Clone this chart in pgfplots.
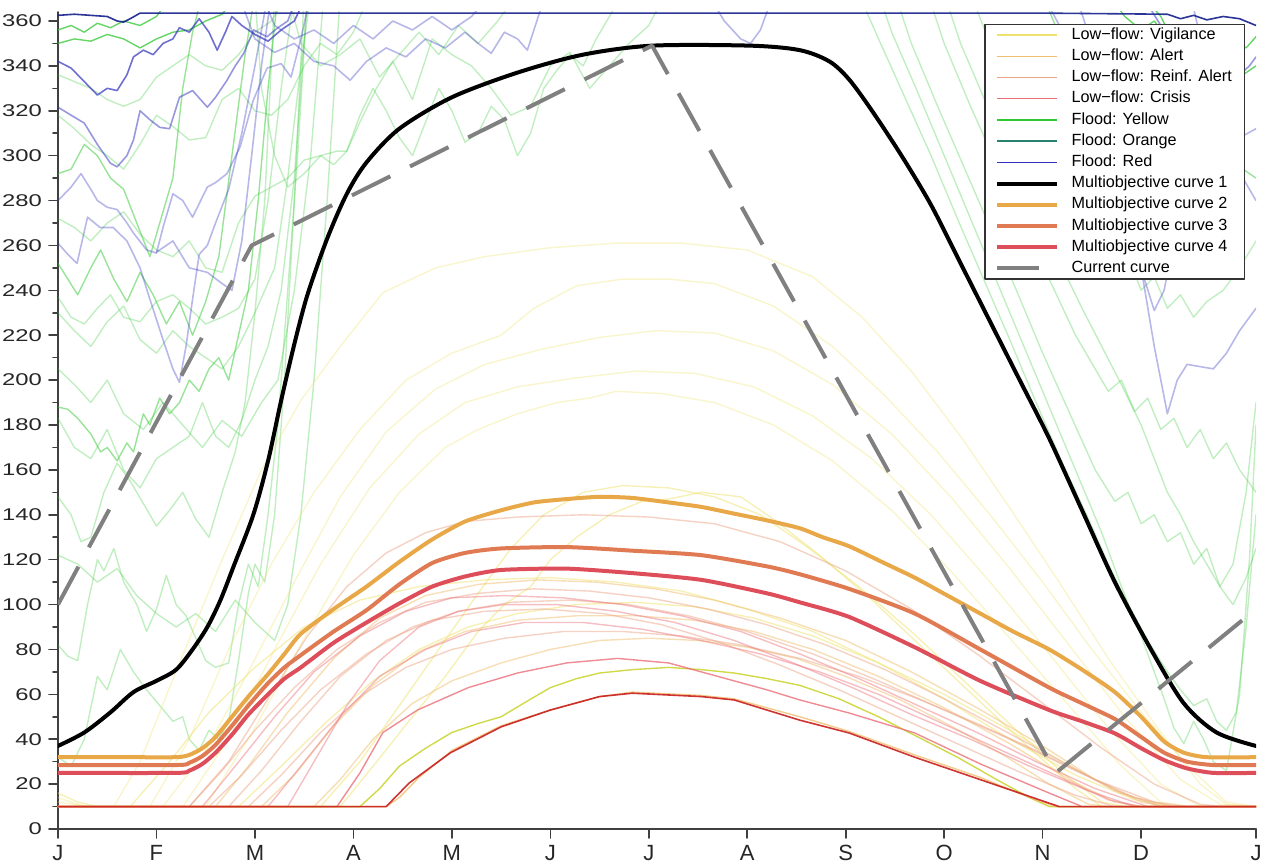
\documentclass[border=0pt]{standalone}
\usepackage{fontspec}
\setmainfont{Liberation Sans}
\newfontfamily\tickfont{Liberation Sans}[FakeStretch=1.4]
\usepackage{pgfplots}
\pgfplotsset{compat=1.18}
\definecolor{vigc}{RGB}{238,226,110}
\definecolor{alc}{RGB}{240,190,110}
\definecolor{rac}{RGB}{235,165,135}
\definecolor{crc}{RGB}{235,110,120}
\definecolor{fyc}{RGB}{50,200,50}
\definecolor{foc}{RGB}{40,130,110}
\definecolor{frc}{RGB}{50,50,190}
\definecolor{mo2}{RGB}{232,168,72}
\definecolor{mo3}{RGB}{224,122,82}
\definecolor{mo4}{RGB}{222,78,90}
\definecolor{curc}{RGB}{128,128,128}
\pgfplotsset{
 vig/.style={color=vigc, opacity=0.35, line width=0.7pt, forget plot},
 al/.style={color=alc, opacity=0.5, line width=0.7pt, forget plot},
 ra/.style={color=rac, opacity=0.5, line width=0.7pt, forget plot},
 cr/.style={color=crc, opacity=0.45, line width=0.7pt, forget plot},
 fy/.style={color=fyc, opacity=0.3, line width=0.7pt, forget plot},
 fyd/.style={color=fyc, opacity=0.75, line width=0.7pt, forget plot},
 fr/.style={color=frc, opacity=0.35, line width=0.8pt, forget plot},
 frd/.style={color=frc, opacity=0.7, line width=0.8pt, forget plot},
}
\begin{document}
\begin{tikzpicture}
\useasboundingbox (-29pt,-17.5pt) rectangle (603pt,414.5pt);
\begin{axis}[
  scale only axis, width=599pt, height=408.5pt,
  xmin=0, xmax=365, ymin=0, ymax=364,
  axis x line*=bottom, axis y line*=left,
  axis line style={-, black!75, line width=0.8pt},
  xtick={0,30,60,90,120,150,180,210,240,270,300,330,365},
  xticklabels={J,F,M,A,M,J,J,A,S,O,N,D,J},
  ytick={0,20,...,360}, minor y tick num=1,
  tick align=outside, major tick length=4.5pt, minor tick length=2.5pt,
  tick style={black!75, line width=0.8pt},
  yticklabel style={font=\tickfont\fontsize{8.5}{10}\selectfont, text=black!85},
  xticklabel style={font=\fontsize{11}{12}\selectfont, text=black!85},
  /pgf/number format/assume math mode=true,
  line join=round, line cap=round,
  legend image code/.code={\draw[#1] (0pt,0pt) -- (30pt,0pt); \path (35pt,0pt);},
  legend style={at={(1,1)}, anchor=north east, xshift=-5.5pt, yshift=-6pt,
    draw=black!80, line width=0.6pt, fill=white,
    font=\fontsize{8.1}{9.5}\selectfont, row sep=0pt,
    inner xsep=5pt, inner ysep=0pt,
    nodes={inner sep=1.3pt, text height=6.1pt, text depth=1.9pt},
    cells={anchor=west}},
]
% ---------------- Flood lines (green) ----------------
\addplot[fyd] coordinates {(0,356)(4,358)(8,355)(12,359)(16,357)(20,360)(25,358)(30,362)(35,372)};
\addplot[fyd] coordinates {(0,350)(5,352)(10,351)(15,354)(20,352)(25,348)(30,352)(35,355)(40,356)(45,360)(50,363)(55,372)};
\addplot[fy] coordinates {(0,336)(5,333)(10,330)(15,325)(20,322)(25,325)(30,335)(35,340)(40,345)(45,340)(50,338)(55,345)(60,355)(65,360)(70,372)};
\addplot[fy] coordinates {(0,318)(5,312)(10,305)(15,300)(20,294)(25,305)(30,318)(35,313)(40,307)(45,308)(50,325)(55,330)(60,320)(65,318)(70,325)(75,340)(80,350)(85,345)(90,355)(95,372)};
\addplot[fyd, opacity=0.5] coordinates {(0,292)(4,294)(8,305)(12,300)(16,290)(20,285)(24,270)(28,255)(31,270)(35,290)(38,330)(41,355)(44,372)};
\addplot[fy] coordinates {(0,272)(5,268)(10,262)(15,270)(20,275)(25,265)(30,258)(35,255)(40,262)(45,250)(50,248)(55,270)(60,282)(65,286)(70,290)(75,298)(80,300)(85,302)(88,302)(92,315)(97,330)(102,342)(108,325)(114,352)(120,345)(126,340)(132,330)(138,318)(144,322)(150,340)(156,346)(162,330)(168,340)(174,350)(180,358)(185,372)};
\addplot[fyd, opacity=0.5] coordinates {(0,252)(3,245)(6,238)(10,250)(13,258)(17,245)(21,235)(25,248)(29,238)(33,225)(37,235)(41,220)(45,235)(49,255)(53,300)(57,345)(60,372)};
\addplot[fy] coordinates {(0,237)(4,228)(8,225)(12,232)(16,238)(20,228)(25,226)(30,235)(35,238)(40,232)(45,225)(50,228)(55,232)(60,245)(64,280)(68,330)(72,372)};
\addplot[fy] coordinates {(0,230)(5,222)(10,215)(15,226)(20,233)(25,218)(30,212)(35,222)(40,215)(45,210)(50,205)(55,215)(60,230)(66,250)(70,290)(74,340)(77,372)};
\addplot[fyd, opacity=0.5] coordinates {(0,188)(3,187)(6,183)(10,176)(13,168)(15,170)(18,164)(21,172)(23,168)(26,185)(28,180)(31,192)(34,185)(37,190)(40,200)(43,195)(46,205)(49,210)(52,200)(55,220)(58,240)(61,280)(64,330)(67,372)};
\addplot[fy] coordinates {(0,183)(5,170)(10,165)(15,178)(20,160)(25,152)(30,165)(35,170)(40,175)(44,190)(48,175)(52,170)(56,182)(60,200)(64,215)(68,240)(72,290)(76,372)};
\addplot[fy] coordinates {(0,148)(4,140)(7,128)(10,130)(14,150)(18,163)(22,155)(26,145)(30,135)(34,142)(38,150)(42,138)(46,130)(50,150)(54,168)(57,190)(60,230)(63,280)(66,372)};
\addplot[fy] coordinates {(0,82)(3,77)(6,75)(9,100)(12,120)(14,115)(17,125)(20,110)(24,100)(27,88)(30,98)(33,113)(36,100)(39,95)(42,85)(45,75)(48,72)(52,74)(55,100)(58,118)(61,108)(64,140)(67,180)(70,240)(73,300)(76,372)};
\addplot[fy] coordinates {(0,32)(4,28)(8,40)(12,68)(15,62)(19,80)(23,70)(27,62)(31,55)(35,48)(38,50)(40,40)(43,35)(46,44)(49,40)(52,48)(55,75)(58,105)(60,118)(63,110)(66,140)(69,200)(72,280)(75,372)};
\addplot[fy] coordinates {(0,122)(6,118)(12,110)(18,116)(24,104)(30,96)(36,90)(42,96)(48,88)(54,102)(60,92)(66,84)(70,100)(74,140)(78,200)(82,280)(86,372)};
\addplot[fy] coordinates {(0,205)(5,198)(10,190)(15,200)(20,185)(26,178)(32,190)(38,180)(44,170)(50,182)(56,175)(62,190)(67,200)(72,240)(77,300)(81,372)};
\addplot[fy] coordinates {(60,372)(62,330)(66,300)(70,286)(75,292)(80,300)(84,296)(88,302)(92,318)(96,330)(100,320)(104,308)(108,300)(112,315)(116,330)(120,320)(124,306)(128,310)(132,322)(136,316)(140,300)(144,310)(148,330)(152,338)(156,345)(160,340)(164,352)(168,362)(172,372)};
\addplot[fy] coordinates {(70,372)(74,350)(80,340)(86,345)(92,352)(98,335)(104,345)(110,355)(116,345)(122,358)(128,350)(134,360)(140,372)};
% right side
\addplot[fy] coordinates {(244,372)(250,352)(258,326)(266,300)(274,272)(282,245)(290,218)(298,190)(306,163)(314,138)(320,118)(326,100)(332,84)(338,70)(342,62)(346,55)(350,58)(353,48)(356,44)(359,52)(362,90)(365,140)};
\addplot[fy] coordinates {(255,372)(260,350)(268,322)(276,295)(284,268)(292,240)(300,212)(308,186)(316,160)(322,146)(326,150)(330,136)(334,140)(338,128)(342,132)(346,118)(350,125)(354,108)(358,118)(362,150)(365,190)};
\addplot[fy] coordinates {(265,372)(270,350)(278,322)(286,296)(294,270)(302,245)(310,220)(316,205)(320,195)(324,200)(328,186)(332,192)(336,178)(340,183)(344,170)(348,178)(352,165)(356,172)(360,160)(365,150)};
\addplot[fy] coordinates {(278,372)(284,350)(292,325)(300,300)(308,276)(314,260)(318,264)(322,250)(326,255)(330,240)(334,246)(338,232)(342,238)(346,228)(350,235)(355,240)(360,250)(365,262)};
\addplot[fyd, opacity=0.5] coordinates {(300,372)(306,350)(312,333)(318,320)(322,325)(326,312)(330,318)(335,305)(340,310)(345,300)(350,292)(355,300)(360,295)(365,290)};
\addplot[fyd] coordinates {(320,372)(325,362)(330,356)(334,360)(338,352)(342,357)(346,350)(350,355)(354,346)(358,352)(362,348)(365,353)};
\addplot[fyd] coordinates {(330,372)(336,362)(340,350)(344,355)(348,345)(352,340)(356,344)(360,335)(365,340)};
\addplot[fy] coordinates {(250,372)(254,355)(262,328)(270,300)(278,272)(286,244)(294,216)(302,188)(310,160)(318,132)(324,108)(330,86)(334,70)(337,58)(340,45)(343,38)(346,48)(349,40)(352,30)(356,26)(360,60)(363,120)(365,180)};
\addplot[fy] coordinates {(270,372)(275,350)(282,326)(290,300)(298,274)(306,250)(312,232)(318,215)(324,198)(330,180)(334,165)(338,150)(342,140)(346,128)(350,118)(354,108)(358,100)(362,112)(365,125)};
% ---------------- Flood lines (blue) ----------------
\addplot[frd, opacity=0.9, color={rgb,255:red,20;green,30;blue,140}] coordinates {(0,362.5)(5,363)(10,362.5)(15,362)(18,360)(20,359.5)(22,361)(25,363.5)(40,363.5)(100,363.5)(200,363.5)(300,363.5)(338,363)(342,361)(346,362.5)(350,360.5)(355,362)(360,361)(365,358)};
\addplot[frd] coordinates {(0,342)(4,339)(8,333)(12,327)(15,330)(18,329)(21,336)(23,344)(26,347)(29,345)(32,350)(35,352)(37,357)(40,355)(43,361)(46,355)(48.5,347)(51,355)(53,362)(56,358)(60,354)(64,351)(68,356)(72,360)(76,372)};
\addplot[frd, opacity=0.5] coordinates {(0,321.6)(4,318)(8,314.5)(12,305)(16,296.6)(18,295)(21,300)(23,307)(25,320)(28,316)(31,312.6)(34,312)(37,326)(41,329)(45.5,321.6)(48,326)(51.5,333.6)(54,340)(56.6,345.6)(59.6,356)(63.7,353)(67,357)(70,360)(73,372)};
\addplot[fr] coordinates {(0,280)(4,286)(7,292)(10,285)(12,280)(15,277)(18,276)(21,270)(23,265.5)(27,258)(30,256.6)(32,268)(35,283)(38,280)(41,272.6)(45.5,286)(48,288)(51.5,292)(55.5,304)(59.5,324.7)(63.7,339)(68,341)(71,335)(74,352)(77,372)};
\addplot[fr] coordinates {(0,261)(3,256)(5.8,252)(9,272.6)(12.8,268)(16.8,268)(21,262)(25,250)(28,236)(32,218)(35,205)(37,199)(39,215)(41,236)(43,256)(45.5,260)(48,270)(52,285)(56,310)(60,340)(64,372)};
\addplot[fr] coordinates {(30,257)(35,262)(40,250)(45.5,248)(50,243)(53,240)(56,262)(59,300)(62,340)(65,372)};
\addplot[fr] coordinates {(55,372)(60,352)(66,346)(72,350)(78,342)(84,340)(89,333.6)(94,342)(100,348)(106,344)(112,352)(118,348)(124,355)(128,350)(132,345.6)(136,355)(140,352)(143,347)(147,365)(150,372)};
\addplot[fr] coordinates {(62,372)(66,358)(72,352)(78,356)(84,350)(90,358)(96,352)(102,360)(108,356)(114,362)(120,356)(126,362)(132,372)};
\addplot[fr] coordinates {(198,372)(203,360)(208,352)(211,350)(214,356)(218,372)};
\addplot[fr] coordinates {(300,372)(308,350)(316,320)(322,295)(327,268)(331,245)(334,231)(337,240)(340,262)(344,280)(348,292)(352,300)(356,302)(360,308)(365,312)};
\addplot[fr] coordinates {(310,372)(316,345)(321,315)(326,280)(330,250)(334,215)(338,185)(341,200)(344,207)(348,206)(352,205)(356,212)(360,222)(363,228)(365,232)};
\addplot[fr] coordinates {(345,372)(350,340)(354,318)(358,300)(361,290)(365,280)};
\addplot[frd, opacity=0.5] coordinates {(330,372)(336,358)(342,352)(348,345)(352,350)(356,342)(360,336)(363,340)(365,344)};
% ---------------- Low-flow lines ----------------
\addplot[vig] coordinates {(0,14)(8,10)(17,10)(25,30)(37,74)(50,120)(62,160)(74,191)(86,215)(99,239)(115,250)(130,255)(150,259)(170,261)(190,261)(210,258)(230,246)(245,228)(260,204)(275,175)(290,143)(305,110)(320,76)(335,45)(348,20)(356,11)(365,10)};
\addplot[vig] coordinates {(0,12)(10,10)(28,10)(40,40)(52,80)(65,118)(78,150)(92,178)(106,200)(120,212)(135,220)(145,232)(158,242)(172,245)(186,245)(200,243)(218,233)(236,215)(252,193)(268,168)(284,140)(300,110)(315,80)(330,52)(345,27)(356,12)(365,10)};
\addplot[vig] coordinates {(0,10)(32,10)(45,35)(58,70)(72,110)(86,148)(100,177)(115,196)(130,207)(148,214)(165,219)(182,222)(200,221)(218,213)(236,198)(254,176)(272,148)(290,116)(308,82)(325,50)(342,22)(354,11)(365,10)};
\addplot[vig] coordinates {(0,10)(38,10)(52,40)(66,80)(80,118)(95,152)(110,176)(124,190)(140,197)(158,201)(176,204)(194,203)(212,197)(230,184)(248,165)(266,140)(284,110)(302,78)(320,45)(336,20)(348,10)(365,10)};
\addplot[vig] coordinates {(0,10)(45,10)(60,45)(75,85)(90,122)(104,150)(118,170)(128,178)(140,185)(152,190)(162,192)(170,195)(184,194)(200,190)(218,180)(236,164)(254,142)(272,115)(290,85)(308,55)(324,28)(336,12)(345,10)(365,10)};
\addplot[vig, opacity=0.5] coordinates {(0,10)(80,10)(92,30)(104,55)(116,80)(128,105)(138,125)(148,140)(160,150)(172,153)(186,152)(200,148)(214,140)(228,126)(244,108)(260,88)(276,66)(292,44)(306,25)(318,12)(325,10)(365,10)};
\addplot[vig, opacity=0.5] coordinates {(0,10)(86,10)(96,28)(108,50)(118,68)(128,88)(136,100)(144,108)(150,120)(158,130)(168,140)(178,146)(186,147)(196,150)(208,148)(218,138)(232,122)(248,102)(264,80)(280,58)(296,36)(310,18)(318,10)(365,10)};
\addplot[vig, opacity=0.5] coordinates {(0,16)(6,12)(12,10)(22,10)(34,30)(46,52)(60,72)(75,90)(92,102)(110,108)(130,111)(150,112)(170,110)(190,106)(210,98)(230,88)(250,74)(270,58)(290,40)(310,24)(328,13)(340,10)(365,10)};
\addplot[vig, opacity=0.5] coordinates {(0,10)(55,10)(68,28)(82,48)(96,66)(110,80)(125,90)(140,96)(158,100)(176,101)(194,99)(212,94)(230,86)(250,74)(270,60)(290,44)(308,28)(324,16)(338,10)(365,10)};
\addplot[forget plot, color={rgb,255:red,200;green,210;blue,40}, opacity=0.85, line width=0.7pt] coordinates {(0,10)(92,10)(98,18)(104,28)(112,36)(120,43)(128,47)(135,50)(143,57)(150,63)(158,67)(165,69.5)(175,71)(186,72)(196,71)(206,69.5)(216,67)(226,64)(238,58)(250,50)(262,41)(274,32)(286,22)(296,14)(302,10)(365,10)};
\addplot[ra] coordinates {(0,10)(40,10)(52,30)(64,58)(76,86)(88,108)(100,123)(112,132)(124,137)(140,139)(160,140)(180,139)(200,136)(220,128)(240,115)(260,98)(280,78)(300,56)(318,36)(334,20)(348,11)(355,10)(365,10)};
\addplot[al] coordinates {(0,10)(48,10)(58,28)(70,52)(84,76)(98,94)(112,104)(128,109)(146,111)(164,110)(182,107)(200,102)(220,94)(240,84)(260,70)(280,54)(300,37)(316,22)(330,12)(338,10)(365,10)};
\addplot[al] coordinates {(0,10)(78,10)(86,22)(96,40)(108,56)(120,66)(135,74)(150,80)(165,84)(180,85)(195,84)(210,81)(225,76)(240,68)(256,58)(272,46)(288,33)(302,20)(314,11)(320,10)(365,10)};
\addplot[al] coordinates {(0,10)(62,10)(72,24)(84,46)(96,64)(110,79)(124,88)(140,93)(158,95)(176,95)(194,93)(212,88)(230,80)(250,68)(270,54)(290,38)(308,22)(322,12)(330,10)(365,10)};
\addplot[ra] coordinates {(0,10)(40,10)(50,26)(60,44)(72,63)(85,80)(98,92)(112,101)(128,105)(145,107)(162,106)(180,103)(198,98)(216,91)(234,82)(252,71)(270,58)(288,44)(306,30)(322,17)(336,10)(365,10)};
\addplot[ra] coordinates {(0,10)(46,10)(56,24)(68,44)(80,62)(94,78)(108,90)(122,97)(138,101)(156,102)(174,100)(192,95)(210,88)(230,78)(250,66)(270,53)(290,40)(310,26)(328,14)(340,10)(365,10)};
\addplot[ra] coordinates {(0,10)(52,10)(62,26)(74,48)(86,68)(100,84)(114,93)(130,97)(148,98)(166,96)(184,91)(202,83)(220,73)(238,62)(256,50)(274,38)(292,26)(310,15)(322,10)(365,10)};
\addplot[ra] coordinates {(0,10)(58,10)(68,24)(80,43)(93,60)(106,72)(120,80)(136,85)(154,88)(172,88)(190,86)(208,82)(226,76)(244,68)(262,58)(280,47)(298,35)(316,22)(334,12)(344,10)(365,10)};
\addplot[cr] coordinates {(0,10)(44,10)(54,28)(66,50)(78,70)(92,86)(106,97)(120,103)(136,104)(154,103)(172,100)(190,95)(208,88)(226,78)(244,67)(262,55)(280,43)(298,30)(316,18)(332,10)(365,10)};
\addplot[cr] coordinates {(0,10)(64,10)(74,28)(86,50)(98,68)(112,80)(126,88)(142,92)(160,92)(178,89)(196,84)(214,78)(232,70)(250,60)(268,48)(286,36)(304,24)(320,13)(330,10)(365,10)};
\addplot[cr] coordinates {(0,10)(70,10)(78,30)(88,55)(98,75)(110,90)(122,97)(136,100)(152,100)(170,97)(188,92)(206,84)(224,74)(242,63)(260,51)(278,40)(296,28)(314,17)(328,10)(365,10)};
\addplot[cr, opacity=0.8] coordinates {(0,10)(85,10)(92,25)(99,43)(109.5,53)(125,63)(140,69.5)(155,74)(170.5,76)(186,74)(201,68)(216,62)(226,57.5)(241,51.7)(261,42.8)(281,29)(302,16)(312,10)(365,10)};
\addplot[al, opacity=0.8] coordinates {(0,10)(100,10)(104,14)(110,23)(120,35)(135,46)(150,53)(165,59)(175,61)(196,59.5)(206,58)(216,54)(226,50)(241,43.5)(261,33)(281,23)(296,14)(304,10)(365,10)};
\addplot[forget plot, color={rgb,255:red,200;green,30;blue,30}, opacity=0.9, line width=0.8pt] coordinates {(0,10)(100,10)(107,20.5)(119.6,34)(135,45.5)(150,53)(165,59)(175,60.5)(196,59)(206,57.5)(216,53)(226,48.5)(241,42.8)(261,32)(281,22)(305,10)(365,10)};
% ---------------- Multiobjective curves ----------------
\addplot[forget plot, color=mo2, line width=2pt, smooth, tension=0.4] coordinates {(0,32)(20,32)(36,32)(40,33)(44,36)(48,41)(53,50)(58,59)(64,69)(69,78)(74,87)(84,98)(94,108)(104,119)(114,129)(124,137)(135,142)(145,145.5)(155,147)(165,148)(175,147.5)(186,145.5)(196,143.5)(206,140.5)(216,137.5)(226,134)(233,130)(241,126)(251,119)(261,112)(271,104)(281,96)(291,88)(302,80)(312,71)(322,61)(330,50)(337,39)(343,34)(350,32)(365,32)};
\addplot[forget plot, color=mo3, line width=2pt, smooth, tension=0.4] coordinates {(0,28.5)(36,28.5)(40,29.5)(44,32.5)(48,37.5)(53,46)(58,55)(64,65)(69,72)(74,77.5)(84,88)(94,97.5)(104,109)(114,118.5)(124,123)(135,125)(155,125.6)(175,124)(196,122)(216,117)(226,113.5)(241,107)(261,96)(281,80)(302,63)(312,56)(322,49)(330,41)(337,34)(344,30)(352,28.5)(365,28.5)};
\addplot[forget plot, color=mo4, line width=2pt, smooth, tension=0.4] coordinates {(0,25)(36,25)(40,26)(44,29)(48,34)(53,42)(58,51)(64,60)(69,67)(74,72)(84,83)(94,92)(104,100.5)(114,108)(124,112.5)(135,115.4)(155,116)(175,114)(196,111)(216,105)(226,101)(241,94.5)(261,81)(281,66)(302,53)(312,48)(322,42.6)(330,36)(337,30.7)(344,27)(352,25)(365,25)};
\addplot[forget plot, color=black, line width=2pt, smooth, tension=0.5] coordinates {(0,37)(8,43)(16,52)(23,61)(30,66)(36,71)(41,80)(45.5,90)(49.5,102)(53.5,117)(59.5,140)(64,164)(68,191)(72,216)(76,238)(82,263)(88,283)(94,297)(104,312)(120,326)(140,337)(160,345)(181,349)(211,349)(226,347)(235,342)(241,334)(248,320)(257,300)(266,278)(275,252)(284,226)(293,200)(302,174)(312,142)(322,110)(333,80)(343,56)(353,43)(365,37)};
\addplot[forget plot, color=curc, line width=2pt, line cap=butt, dash pattern=on 21.5pt off 11pt] coordinates {(0,100)(59,260)(181,349)(304,25)(365,98)};
% ---------------- Legend ----------------
\addlegendimage{color=vigc, line width=0.7pt}
\addlegendentry{Low−flow: Vigilance}
\addlegendimage{color=alc, line width=0.7pt}
\addlegendentry{Low−flow: Alert}
\addlegendimage{color=rac, line width=0.7pt}
\addlegendentry{Low−flow: Reinf. Alert}
\addlegendimage{color=crc, line width=0.7pt}
\addlegendentry{Low−flow: Crisis}
\addlegendimage{color=fyc, line width=0.7pt}
\addlegendentry{Flood: Yellow}
\addlegendimage{color=foc, line width=0.7pt}
\addlegendentry{Flood: Orange}
\addlegendimage{color=frc, line width=0.7pt}
\addlegendentry{Flood: Red}
\addlegendimage{color=black, line width=2pt}
\addlegendentry{Multiobjective curve 1}
\addlegendimage{color=mo2, line width=2pt}
\addlegendentry{Multiobjective curve 2}
\addlegendimage{color=mo3, line width=2pt}
\addlegendentry{Multiobjective curve 3}
\addlegendimage{color=mo4, line width=2pt}
\addlegendentry{Multiobjective curve 4}
\addlegendimage{color=curc, line width=2pt, line cap=butt, shorten >=9pt}
\addlegendentry{Current curve}
\end{axis}
\end{tikzpicture}
\end{document}
